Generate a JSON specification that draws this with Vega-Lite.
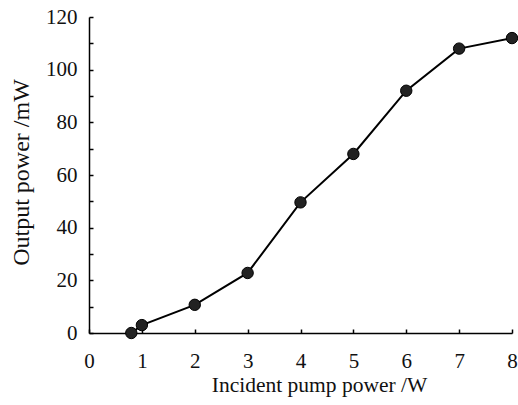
{
  "$schema": "https://vega.github.io/schema/vega-lite/v6.json",
  "autosize": {"type": "none"},
  "padding": {"left": 89, "top": 17, "right": 6, "bottom": 72},
  "width": 423,
  "height": 316,
  "background": "white",
  "config": {
    "view": {"stroke": null},
    "font": "Liberation Serif",
    "axis": {
      "labelFont": "Liberation Serif",
      "titleFont": "Liberation Serif",
      "labelFontSize": 21,
      "titleFontSize": 21.5,
      "titleFontWeight": "normal",
      "labelColor": "#111",
      "titleColor": "#111",
      "domainColor": "#000",
      "domainWidth": 1.5,
      "tickColor": "#000",
      "tickWidth": 1.5,
      "tickSize": -4,
      "grid": false
    }
  },
  "data": {
    "values": [
      {"p": 0.8, "o": 0},
      {"p": 1, "o": 3},
      {"p": 2, "o": 10.7},
      {"p": 3, "o": 22.8},
      {"p": 4, "o": 49.6},
      {"p": 5, "o": 68},
      {"p": 6, "o": 92},
      {"p": 7, "o": 108},
      {"p": 8, "o": 112}
    ]
  },
  "encoding": {
    "x": {
      "field": "p", "type": "quantitative",
      "scale": {"domain": [0, 8], "nice": false, "zero": false},
      "axis": {
        "title": "Incident pump power /W",
        "format": "d",
        "values": [0, 0.5, 1, 1.5, 2, 2.5, 3, 3.5, 4, 4.5, 5, 5.5, 6, 6.5, 7, 7.5, 8],
        "labelExpr": "datum.value % 1 == 0 ? datum.label : ''",
        "labelPadding": 21,
        "titleBaseline": "alphabetic",
        "titleAlign": "center",
        "titleX": 230,
        "titleY": 58,
        "labelFlush": false
      }
    },
    "y": {
      "field": "o", "type": "quantitative",
      "scale": {"domain": [0, 120], "nice": false},
      "axis": {
        "title": "Output power /mW",
        "format": "d",
        "titleFontSize": 24,
        "values": [0, 10, 20, 30, 40, 50, 60, 70, 80, 90, 100, 110, 120],
        "labelExpr": "datum.value % 20 == 0 ? datum.label : ''",
        "labelPadding": 16,
        "titleBaseline": "alphabetic",
        "titleAlign": "center",
        "titleX": -61,
        "titleY": 155,
        "labelFlush": false
      }
    }
  },
  "layer": [
    {"mark": {"type": "line", "color": "#000", "strokeWidth": 2}},
    {"mark": {"type": "point", "filled": true, "shape": "circle", "size": 130, "color": "#222", "opacity": 1, "stroke": "#000", "strokeWidth": 1}}
  ]
}
